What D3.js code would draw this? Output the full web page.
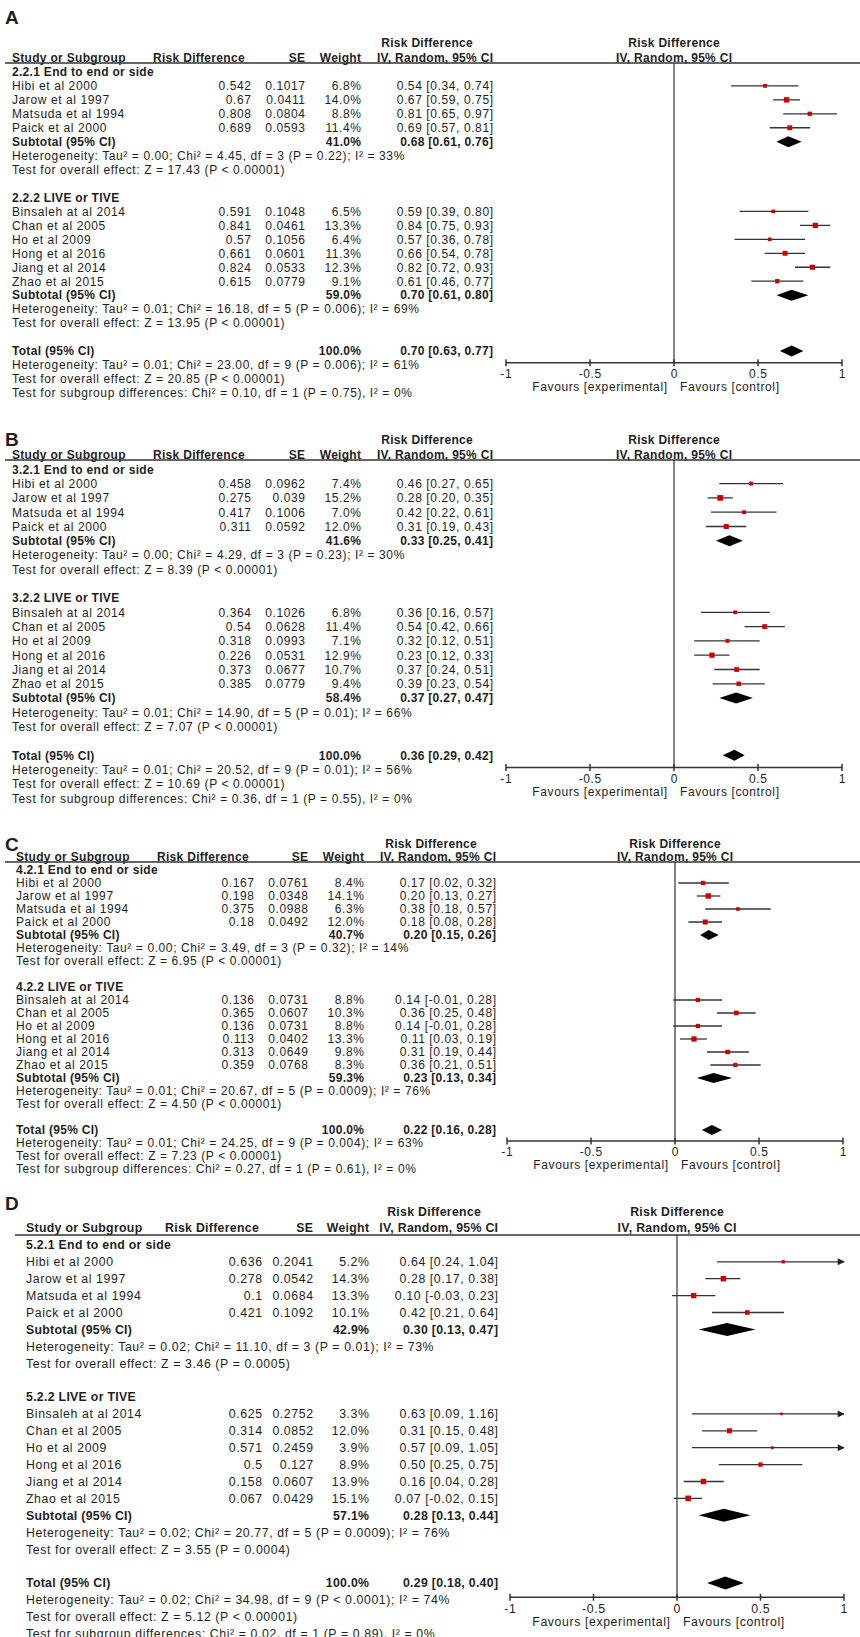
<!DOCTYPE html>
<html>
<head>
<meta charset="utf-8">
<script src="https://d3js.org/d3.v7.min.js"></script>
<style>
  body { margin: 0; background: #fff; }
  text { font-family: "Liberation Sans", Arial, sans-serif; fill: #1e1e1e; }
</style>
</head>
<body>
<script>
// studies, same in every panel
var studiesG1 = ["Hibi et al 2000", "Jarow et al 1997", "Matsuda et al 1994", "Paick et al 2000"];
var studiesG2 = ["Binsaleh at al 2014", "Chan et al 2005", "Ho et al 2009", "Hong et al 2016", "Jiang et al 2014", "Zhao et al 2015"];
var axisTicks = [-1, -0.5, 0, 0.5, 1];

// panel A
var groupsA = ["2.2.1 End to end or side", "2.2.2 LIVE or TIVE"];
var rdA = [0.542, 0.67, 0.808, 0.689, 0.591, 0.841, 0.57, 0.661, 0.824, 0.615];
var seA = [0.1017, 0.0411, 0.0804, 0.0593, 0.1048, 0.0461, 0.1056, 0.0601, 0.0533, 0.0779];
var wtA = [6.8, 14.0, 8.8, 11.4, 6.5, 13.3, 6.4, 11.3, 12.3, 9.1];
var loA = [0.34, 0.59, 0.65, 0.57, 0.39, 0.75, 0.36, 0.54, 0.72, 0.46];
var hiA = [0.74, 0.75, 0.97, 0.81, 0.80, 0.93, 0.78, 0.78, 0.93, 0.77];
var subWtA = [41.0, 59.0, 100.0];
var subEstA = [0.68, 0.70, 0.70];
var subLoA = [0.61, 0.61, 0.63];
var subHiA = [0.76, 0.80, 0.77];
var hetA = ["Heterogeneity: Tau² = 0.00; Chi² = 4.45, df = 3 (P = 0.22); I² = 33%",
            "Test for overall effect: Z = 17.43 (P < 0.00001)",
            "Heterogeneity: Tau² = 0.01; Chi² = 16.18, df = 5 (P = 0.006); I² = 69%",
            "Test for overall effect: Z = 13.95 (P < 0.00001)",
            "Heterogeneity: Tau² = 0.01; Chi² = 23.00, df = 9 (P = 0.006); I² = 61%",
            "Test for overall effect: Z = 20.85 (P < 0.00001)",
            "Test for subgroup differences: Chi² = 0.10, df = 1 (P = 0.75), I² = 0%"];

// panel B
var groupsB = ["3.2.1 End to end or side", "3.2.2 LIVE or TIVE"];
var rdB = [0.458, 0.275, 0.417, 0.311, 0.364, 0.54, 0.318, 0.226, 0.373, 0.385];
var seB = [0.0962, 0.039, 0.1006, 0.0592, 0.1026, 0.0628, 0.0993, 0.0531, 0.0677, 0.0779];
var wtB = [7.4, 15.2, 7.0, 12.0, 6.8, 11.4, 7.1, 12.9, 10.7, 9.4];
var loB = [0.27, 0.20, 0.22, 0.19, 0.16, 0.42, 0.12, 0.12, 0.24, 0.23];
var hiB = [0.65, 0.35, 0.61, 0.43, 0.57, 0.66, 0.51, 0.33, 0.51, 0.54];
var subWtB = [41.6, 58.4, 100.0];
var subEstB = [0.33, 0.37, 0.36];
var subLoB = [0.25, 0.27, 0.29];
var subHiB = [0.41, 0.47, 0.42];
var hetB = ["Heterogeneity: Tau² = 0.00; Chi² = 4.29, df = 3 (P = 0.23); I² = 30%",
            "Test for overall effect: Z = 8.39 (P < 0.00001)",
            "Heterogeneity: Tau² = 0.01; Chi² = 14.90, df = 5 (P = 0.01); I² = 66%",
            "Test for overall effect: Z = 7.07 (P < 0.00001)",
            "Heterogeneity: Tau² = 0.01; Chi² = 20.52, df = 9 (P = 0.01); I² = 56%",
            "Test for overall effect: Z = 10.69 (P < 0.00001)",
            "Test for subgroup differences: Chi² = 0.36, df = 1 (P = 0.55), I² = 0%"];

// panel C
var groupsC = ["4.2.1 End to end or side", "4.2.2 LIVE or TIVE"];
var rdC = [0.167, 0.198, 0.375, 0.18, 0.136, 0.365, 0.136, 0.113, 0.313, 0.359];
var seC = [0.0761, 0.0348, 0.0988, 0.0492, 0.0731, 0.0607, 0.0731, 0.0402, 0.0649, 0.0768];
var wtC = [8.4, 14.1, 6.3, 12.0, 8.8, 10.3, 8.8, 13.3, 9.8, 8.3];
var loC = [0.02, 0.13, 0.18, 0.08, -0.01, 0.25, -0.01, 0.03, 0.19, 0.21];
var hiC = [0.32, 0.27, 0.57, 0.28, 0.28, 0.48, 0.28, 0.19, 0.44, 0.51];
var subWtC = [40.7, 59.3, 100.0];
var subEstC = [0.20, 0.23, 0.22];
var subLoC = [0.15, 0.13, 0.16];
var subHiC = [0.26, 0.34, 0.28];
var hetC = ["Heterogeneity: Tau² = 0.00; Chi² = 3.49, df = 3 (P = 0.32); I² = 14%",
            "Test for overall effect: Z = 6.95 (P < 0.00001)",
            "Heterogeneity: Tau² = 0.01; Chi² = 20.67, df = 5 (P = 0.0009); I² = 76%",
            "Test for overall effect: Z = 4.50 (P < 0.00001)",
            "Heterogeneity: Tau² = 0.01; Chi² = 24.25, df = 9 (P = 0.004); I² = 63%",
            "Test for overall effect: Z = 7.23 (P < 0.00001)",
            "Test for subgroup differences: Chi² = 0.27, df = 1 (P = 0.61), I² = 0%"];

// panel D
var groupsD = ["5.2.1 End to end or side", "5.2.2 LIVE or TIVE"];
var rdD = [0.636, 0.278, 0.1, 0.421, 0.625, 0.314, 0.571, 0.5, 0.158, 0.067];
var seD = [0.2041, 0.0542, 0.0684, 0.1092, 0.2752, 0.0852, 0.2459, 0.127, 0.0607, 0.0429];
var wtD = [5.2, 14.3, 13.3, 10.1, 3.3, 12.0, 3.9, 8.9, 13.9, 15.1];
var loD = [0.24, 0.17, -0.03, 0.21, 0.09, 0.15, 0.09, 0.25, 0.04, -0.02];
var hiD = [1.04, 0.38, 0.23, 0.64, 1.16, 0.48, 1.05, 0.75, 0.28, 0.15];
var subWtD = [42.9, 57.1, 100.0];
var subEstD = [0.30, 0.28, 0.29];
var subLoD = [0.13, 0.13, 0.18];
var subHiD = [0.47, 0.44, 0.40];
var hetD = ["Heterogeneity: Tau² = 0.02; Chi² = 11.10, df = 3 (P = 0.01); I² = 73%",
            "Test for overall effect: Z = 3.46 (P = 0.0005)",
            "Heterogeneity: Tau² = 0.02; Chi² = 20.77, df = 5 (P = 0.0009); I² = 76%",
            "Test for overall effect: Z = 3.55 (P = 0.0004)",
            "Heterogeneity: Tau² = 0.02; Chi² = 34.98, df = 9 (P < 0.0001); I² = 74%",
            "Test for overall effect: Z = 5.12 (P < 0.00001)",
            "Test for subgroup differences: Chi² = 0.02, df = 1 (P = 0.89), I² = 0%"];

var W = 860, H = 1637;
var svg = d3.select("body").append("svg").attr("width", W).attr("height", H);

var defs = svg.append("defs");
defs.append("marker").attr("id", "arr").attr("viewBox", "0 0 10 10")
    .attr("refX", 9).attr("refY", 5).attr("markerWidth", 9).attr("markerHeight", 7)
    .attr("markerUnits", "userSpaceOnUse").attr("orient", "auto")
    .append("path").attr("d", "M0,0L10,5L0,10z").attr("fill", "#222");

function fmt2(v) { return v.toFixed(2); }
function ciText(e, l, h) { return fmt2(e) + " [" + fmt2(l) + ", " + fmt2(h) + "]"; }

// one forest panel; lay = positions only
function forest(letter, groups, rd, se, wt, lo, hi, subWt, subEst, subLo, subHi, het, lay) {
  var g = svg.append("g");
  var fs = lay.fs;
  var rowY = function(i) { return lay.headY + i * lay.r; };
  var x = d3.scaleLinear().domain([-1, 1]).range([lay.x0, lay.x1]);
  var axisY = lay.headY + 21.85 * lay.r;

  function txt(xx, yy, s, anchor, bold, size) {
    var ls = bold ? 0.3 : 0.6;
    if (size) ls = 0;
    // trailing letter-spacing would push end-anchored text left
    var xa = anchor === "end" ? xx + ls : (anchor === "middle" ? xx + ls / 2 : xx);
    return g.append("text").attr("x", xa).attr("y", yy).attr("dy", "0.36em")
      .attr("text-anchor", anchor || "start")
      .attr("font-weight", bold ? "bold" : "normal")
      .attr("letter-spacing", ls)
      .attr("font-size", (size || fs) + "px").text(s);
  }

  txt(5, lay.letterY, letter, "start", true, 19);
  txt(lay.c.rdTop, lay.topY, "Risk Difference", "middle", true);
  txt(x(0), lay.topY, "Risk Difference", "middle", true);
  var hy = lay.headY;
  txt(lay.c.name, hy, "Study or Subgroup", "start", true);
  txt(lay.c.rdHead, hy, "Risk Difference", "start", true);
  txt(lay.c.se, hy, "SE", "end", true);
  txt(lay.c.wt, hy, "Weight", "end", true);
  txt(lay.c.ci, hy, "IV, Random, 95% CI", "end", true);
  txt(x(0), hy, "IV, Random, 95% CI", "middle", true);
  g.append("line").attr("x1", lay.ruleX0).attr("x2", 860)
    .attr("y1", hy + lay.ruleDy).attr("y2", hy + lay.ruleDy)
    .attr("stroke", "#333").attr("stroke-width", 1.5);

  // zero line
  g.append("line").attr("x1", x(0)).attr("x2", x(0))
    .attr("y1", hy + lay.ruleDy).attr("y2", axisY)
    .attr("stroke", "#444").attr("stroke-width", 1.3);

  var studyRows = [2, 3, 4, 5, 11, 12, 13, 14, 15, 16];
  var names = studiesG1.concat(studiesG2);
  txt(lay.c.name, rowY(1), groups[0], "start", true);
  txt(lay.c.name, rowY(10), groups[1], "start", true);

  names.forEach(function(n, i) {
    var y = rowY(studyRows[i]);
    txt(lay.c.name, y, n);
    txt(lay.c.rdVal, y, String(rd[i]), "end");
    txt(lay.c.se, y, String(se[i]), "end");
    txt(lay.c.wt, y, wt[i].toFixed(1) + "%", "end");
    txt(lay.c.ci, y, ciText(rd[i], lo[i], hi[i]), "end");
    var over = hi[i] > 1;
    g.append("line").attr("x1", x(Math.max(lo[i], -1))).attr("x2", x(Math.min(hi[i], 1)))
      .attr("y1", y).attr("y2", y).attr("stroke", "#333").attr("stroke-width", 1.3)
      .attr("marker-end", over ? "url(#arr)" : null);
    var s = 1.45 * Math.sqrt(wt[i]);
    g.append("rect").attr("x", x(rd[i]) - s / 2).attr("y", y - s / 2)
      .attr("width", s).attr("height", s).attr("fill", "#d00000");
  });

  var subRows = [6, 17, 21];
  var subLabels = ["Subtotal (95% CI)", "Subtotal (95% CI)", "Total (95% CI)"];
  subRows.forEach(function(ri, k) {
    var y = rowY(ri);
    txt(lay.c.name, y, subLabels[k], "start", true);
    txt(lay.c.wt, y, subWt[k].toFixed(1) + "%", "end", true);
    txt(lay.c.ci, y, ciText(subEst[k], subLo[k], subHi[k]), "end", true);
    var dh = lay.dia / 2;
    g.append("path").attr("fill", "#000")
      .attr("d", "M" + x(subLo[k]) + "," + y + "L" + x(subEst[k]) + "," + (y - dh) +
                 "L" + x(subHi[k]) + "," + y + "L" + x(subEst[k]) + "," + (y + dh) + "Z");
  });

  var hetRows = [7, 8, 18, 19, 22, 23, 24];
  het.forEach(function(s, k) { txt(lay.c.name, rowY(hetRows[k]), s); });

  // axis
  g.append("line").attr("x1", x(-1)).attr("x2", x(1)).attr("y1", axisY).attr("y2", axisY)
    .attr("stroke", "#333").attr("stroke-width", 1.5);
  axisTicks.forEach(function(t) {
    g.append("line").attr("x1", x(t)).attr("x2", x(t)).attr("y1", axisY - 3.5).attr("y2", axisY + 3.5)
      .attr("stroke", "#333").attr("stroke-width", 1.5);
    txt(x(t), axisY + 11, String(t), "middle");
  });
  txt(x(0) - 7, axisY + 24, "Favours [experimental]", "end");
  txt(x(0) + 6, axisY + 24, "Favours [control]", "start");
}

var colsAB = { name: 12, rdHead: 153, rdVal: 251, se: 305, wt: 361, ci: 493, rdTop: 427 };
var colsC = { name: 16, rdHead: 157, rdVal: 254, se: 308, wt: 364, ci: 496, rdTop: 431 };
var colsD = { name: 26, rdHead: 165, rdVal: 262, se: 313, wt: 369, ci: 498, rdTop: 434 };

forest("A", groupsA, rdA, seA, wtA, loA, hiA, subWtA, subEstA, subLoA, subHiA, hetA,
  { letterY: 17, topY: 43, headY: 58, r: 13.95, fs: 12, c: colsAB, x0: 506, x1: 842, ruleX0: 5, ruleDy: 5, dia: 11 });
forest("B", groupsB, rdB, seB, wtB, loB, hiB, subWtB, subEstB, subLoB, subHiB, hetB,
  { letterY: 439, topY: 440, headY: 455, r: 14.3, fs: 12, c: colsAB, x0: 506, x1: 842, ruleX0: 5, ruleDy: 5, dia: 11 });
forest("C", groupsC, rdC, seC, wtC, loC, hiC, subWtC, subEstC, subLoC, subHiC, hetC,
  { letterY: 844, topY: 844, headY: 857, r: 13.0, fs: 12, c: colsC, x0: 507, x1: 843, ruleX0: 5, ruleDy: 5, dia: 10 });
forest("D", groupsD, rdD, seD, wtD, loD, hiD, subWtD, subEstD, subLoD, subHiD, hetD,
  { letterY: 1203, topY: 1212, headY: 1228, r: 16.9, fs: 12.3, c: colsD, x0: 510, x1: 844, ruleX0: 15, ruleDy: 7, dia: 13 });
</script>
</body>
</html>
